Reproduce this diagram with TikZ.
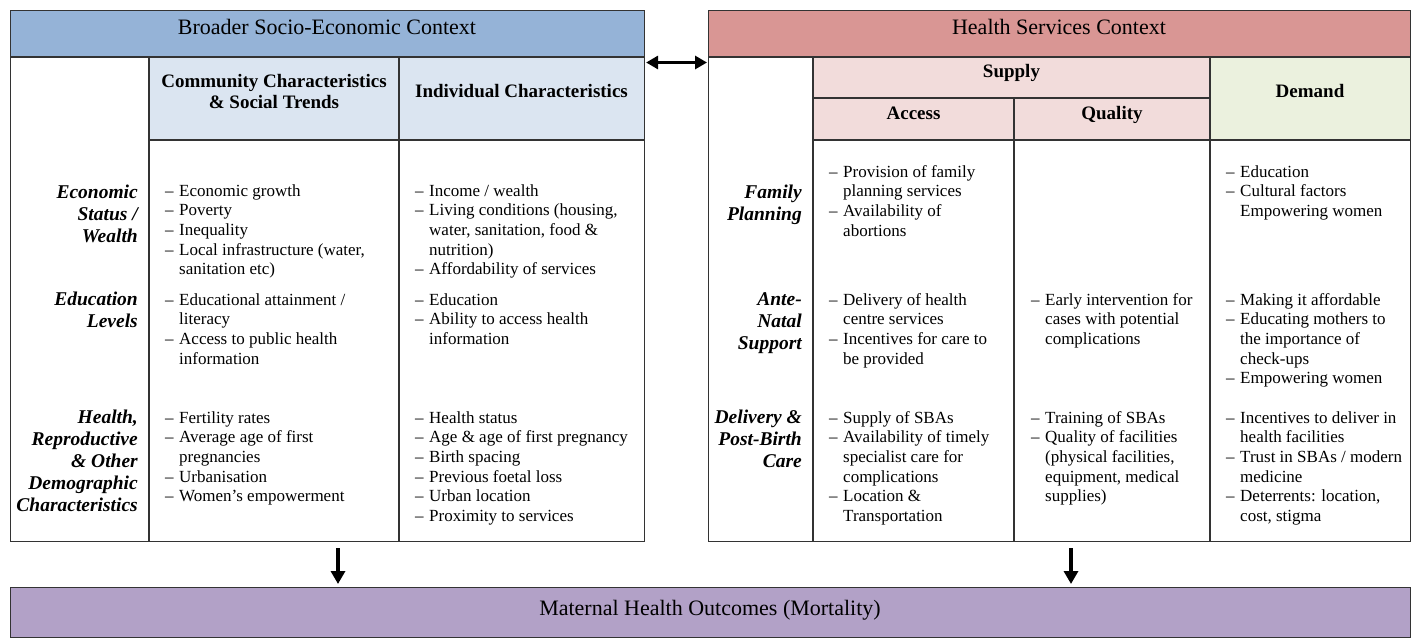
\documentclass[tikz,border=0pt]{standalone}
\usepackage{fontspec}
\setmainfont{Liberation Serif}
\usetikzlibrary{arrows.meta}
\definecolor{hdrblue}{HTML}{95B3D7}
\definecolor{subblue}{HTML}{DBE5F1}
\definecolor{hdrpink}{HTML}{D99694}
\definecolor{subpink}{HTML}{F2DCDB}
\definecolor{subgreen}{HTML}{EBF1DE}
\definecolor{outpurple}{HTML}{B2A1C7}
\definecolor{rulecol}{HTML}{333333}
\newcommand\bul{\makebox[14pt][l]{–}}
\newcommand\ind{\hspace*{14pt}}
\newcommand\cellbox[1]{\parbox[t]{320pt}{\raggedright #1}}
\newcommand\labbox[1]{\parbox[t]{135pt}{\raggedleft #1}}
\begin{document}
\begin{tikzpicture}[x=1pt,y=-1pt,
  frame/.style={draw=rulecol,line width=1.1pt,inner sep=0pt,anchor=north west},
  rl/.style={draw=rulecol,line width=1.1pt},
  title/.style={anchor=base,inner sep=0pt,font=\fontsize{22}{26}\selectfont},
  head/.style={anchor=base,inner sep=0pt,font=\fontsize{19}{21}\selectfont\bfseries},
  lab/.style={anchor=base east,inner sep=0pt,font=\fontsize{19.5}{22}\selectfont\bfseries\itshape},
  cell/.style={anchor=base west,inner sep=0pt,font=\fontsize{17}{19.7}\selectfont},
  arr/.style={line width=3.4pt,-{Triangle[length=13pt,width=14pt]}},
  dblarr/.style={line width=3.2pt,{Triangle[length=12pt,width=13pt]}-{Triangle[length=12pt,width=13pt]}}]
\useasboundingbox (0,0) rectangle (1411,638);
% fills
\fill[hdrblue] (10,10) rectangle (644,57);
\fill[subblue] (149,57) rectangle (644,140);
\fill[hdrpink] (708,10) rectangle (1410,57);
\fill[subpink] (813,57) rectangle (1210,140);
\fill[subgreen] (1210,57) rectangle (1410,140);
% inner rules, left panel
\draw[rl] (10,57) -- (644,57);
\draw[rl] (149,140) -- (644,140);
\draw[rl] (149,57) -- (149,541);
\draw[rl] (399,57) -- (399,541);
% inner rules, right panel
\draw[rl] (708,57) -- (1410,57);
\draw[rl] (813,98) -- (1210,98);
\draw[rl] (813,140) -- (1410,140);
\draw[rl] (813,57) -- (813,541);
\draw[rl] (1014,98) -- (1014,541);
\draw[rl] (1210,57) -- (1210,541);
% panels
\node[frame,minimum width=634pt,minimum height=531pt] (sec) at (10,10) {};
\node[frame,minimum width=702pt,minimum height=531pt] (hsc) at (708,10) {};
\node[frame,fill=outpurple,minimum width=1400pt,minimum height=50pt] (out) at (10,587) {};
% connectors
\coordinate (ay) at (0,62.5);
\coordinate (d1) at (338,0);
\coordinate (d2) at (1071,0);
\draw[dblarr] ([xshift=1pt]sec.east |- ay) -- ([xshift=-1pt]hsc.west |- ay);
\draw[arr] ([yshift=-6pt]sec.south -| d1) -- ([yshift=3pt]out.north -| d1);
\draw[arr] ([yshift=-6pt]hsc.south -| d2) -- ([yshift=3pt]out.north -| d2);
% titles
\node[title] (ttl1) at (327,34) {Broader Socio-Economic Context};
\node[title] (ttl2) at (1059,34) {Health Services Context};
\node[title] (mho) at (710,615) {Maternal Health Outcomes (Mortality)};
% headers
\node[head] (hcom) at (274,87) {\begin{tabular}[t]{@{}c@{}}Community Characteristics\\\& Social Trends\end{tabular}};
\node[head] (hind) at (521.5,97) {Individual Characteristics};
\node[head] (hsup) at (1011.5,77) {Supply};
\node[head] (hacc) at (913.5,119) {Access};
\node[head] (hqua) at (1112,119) {Quality};
\node[head] (hdem) at (1310,97) {Demand};
% row labels left
\node[lab] (lecon) at (138,198) {\labbox{Economic\\Status /\\Wealth}};
\node[lab] (ledu) at (138,305) {\labbox{Education\\Levels}};
\node[lab] (lhlt) at (138,423) {\labbox{Health,\\Reproductive\\\& Other\\Demographic\\Characteristics}};
% row labels right
\node[lab] (lfam) at (802,198) {\labbox{Family\\Planning}};
\node[lab] (lant) at (802,305) {\labbox{Ante-\\Natal\\Support}};
\node[lab] (ldel) at (802,423) {\labbox{Delivery \&\\Post-Birth\\Care}};
% left panel cells
\node[cell] (c11) at (165,196) {\cellbox{\bul Economic growth\\\bul Poverty\\\bul Inequality\\\bul Local infrastructure (water,\\\ind sanitation etc)}};
\node[cell] (c12) at (415,196) {\cellbox{\bul Income / wealth\\\bul Living conditions (housing,\\\ind water, sanitation, food \&\\\ind nutrition)\\\bul Affordability of services}};
\node[cell] (c21) at (165,305) {\cellbox{\bul Educational attainment /\\\ind literacy\\\bul Access to public health\\\ind information}};
\node[cell] (c22) at (415,305) {\cellbox{\bul Education\\\bul Ability to access health\\\ind information}};
\node[cell] (c31) at (165,423) {\cellbox{\bul Fertility rates\\\bul Average age of first\\\ind pregnancies\\\bul Urbanisation\\\bul Women’s empowerment}};
\node[cell] (c32) at (415,423) {\cellbox{\bul Health status\\\bul Age \& age of first pregnancy\\\bul Birth spacing\\\bul Previous foetal loss\\\bul Urban location\\\bul Proximity to services}};
% right panel cells
\node[cell] (r11) at (829,177) {\cellbox{\bul Provision of family\\\ind planning services\\\bul Availability of\\\ind abortions}};
\node[cell] (r13) at (1226,177) {\cellbox{\bul Education\\\bul Cultural factors\\\ind Empowering women}};
\node[cell] (r21) at (829,305) {\cellbox{\bul Delivery of health\\\ind centre services\\\bul Incentives for care to\\\ind be provided}};
\node[cell] (r22) at (1031,305) {\cellbox{\bul Early intervention for\\\ind cases with potential\\\ind complications}};
\node[cell] (r23) at (1226,305) {\cellbox{\bul Making it affordable\\\bul Educating mothers to\\\ind the importance of\\\ind check-ups\\\bul Empowering women}};
\node[cell] (r31) at (829,423) {\cellbox{\bul Supply of SBAs\\\bul Availability of timely\\\ind specialist care for\\\ind complications\\\bul Location \&\\\ind Transportation}};
\node[cell] (r32) at (1031,423) {\cellbox{\bul Training of SBAs\\\bul Quality of facilities\\\ind (physical facilities,\\\ind equipment, medical\\\ind supplies)}};
\node[cell] (r33) at (1226,423) {\cellbox{\bul Incentives to deliver in\\\ind health facilities\\\bul Trust in SBAs / modern\\\ind medicine\\\bul Deterrents: location,\\\ind cost, stigma}};
\end{tikzpicture}
\end{document}
